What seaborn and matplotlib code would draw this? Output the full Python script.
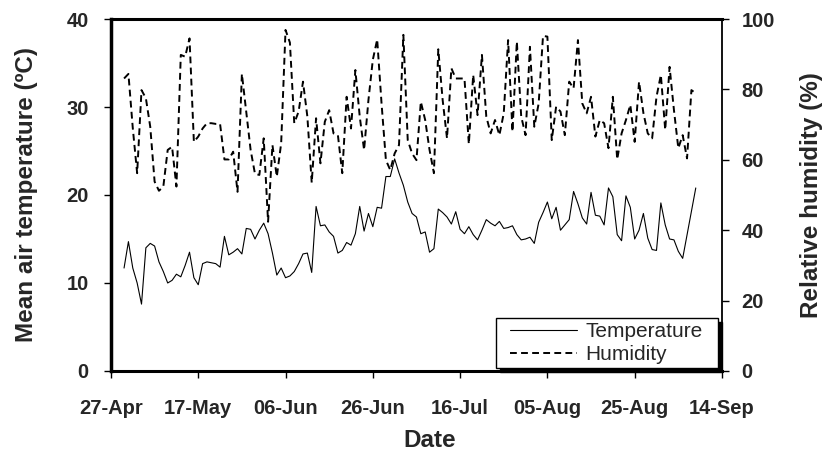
import numpy as np
import pandas as pd
import matplotlib
matplotlib.use("Agg")
import matplotlib.pyplot as plt
import matplotlib.dates as mdates
from matplotlib.lines import Line2D
from matplotlib.legend_handler import HandlerLine2D
import seaborn as sns

# Daily observations, 30 Apr - 8 Sep (temperature missing on 6-7 Sep)
first_day = "2007-04-30"

temperature = [
    11.7, 14.7, 11.7, 10.0, 7.6, 14.0, 14.5, 14.2, 12.4, 11.3,
    10.0, 10.3, 11.0, 10.7, 12.0, 13.5, 10.6, 9.8, 12.2, 12.4,
    12.3, 12.2, 11.8, 15.3, 13.2, 13.5, 13.9, 13.3, 16.2, 16.1,
    15.0, 16.0, 16.8, 15.6, 13.4, 10.9, 11.7, 10.6, 10.8, 11.3,
    12.2, 13.3, 13.4, 11.2, 18.7, 16.5, 16.6, 15.8, 15.3, 13.4,
    13.7, 14.6, 14.3, 15.6, 18.7, 15.9, 17.9, 16.4, 18.6, 18.5,
    22.1, 22.1, 24.1, 22.5, 21.1, 19.2, 17.9, 17.5, 15.6, 15.8,
    13.5, 13.9, 18.4, 18.0, 17.5, 16.7, 18.1, 16.1, 15.6, 16.4,
    15.5, 14.9, 16.0, 17.2, 16.8, 16.5, 17.0, 16.2, 16.3, 16.5,
    15.5, 14.9, 15.0, 15.2, 14.5, 16.9, 18.0, 19.2, 17.3, 18.6,
    16.0, 16.6, 17.2, 20.4, 19.0, 17.4, 16.7, 20.3, 17.7, 17.6,
    16.6, 20.8, 19.8, 15.5, 14.8, 19.9, 18.6, 15.0, 16.0, 17.9,
    15.1, 13.8, 13.7, 19.1, 16.6, 15.0, 14.9, 13.6, 12.8, np.nan,
    np.nan, 20.8,
]

humidity = [
    83.1, 84.4, 69.0, 56.2, 79.8, 77.5, 69.4, 53.8, 51.2, 52.4,
    62.8, 63.7, 52.4, 89.8, 89.3, 94.5, 65.1, 66.6, 68.9, 70.4,
    70.4, 70.2, 70.2, 60.1, 60.1, 62.3, 50.9, 84.4, 73.7, 62.8,
    56.0, 55.7, 66.1, 42.4, 64.2, 55.2, 64.7, 96.9, 93.3, 70.4,
    73.7, 82.2, 72.3, 53.5, 71.8, 59.0, 70.8, 74.1, 67.5, 67.0,
    56.2, 77.9, 68.9, 85.5, 72.3, 62.8, 77.0, 88.4, 94.2, 76.0,
    59.9, 57.1, 61.8, 64.2, 95.5, 65.6, 61.8, 59.9, 76.5, 71.3,
    62.8, 56.2, 91.4, 77.0, 66.1, 86.0, 83.1, 83.1, 83.1, 64.5,
    84.1, 72.7, 89.8, 72.3, 67.5, 71.3, 67.0, 73.2, 94.0, 68.0,
    93.6, 72.3, 67.0, 92.1, 69.4, 76.0, 95.2, 95.0, 65.6, 75.1,
    73.7, 67.0, 82.2, 80.3, 94.0, 76.0, 73.2, 77.9, 66.6, 71.3,
    70.4, 63.3, 77.9, 60.1, 67.5, 71.3, 75.6, 65.1, 82.2, 73.3,
    67.5, 66.1, 77.9, 84.1, 68.5, 86.4, 74.1, 63.3, 67.0, 60.4,
    79.8, 78.9,
]

tick_dates = ["2007-04-27", "2007-05-17", "2007-06-06", "2007-06-26",
              "2007-07-16", "2007-08-05", "2007-08-25", "2007-09-14"]
temp_ticks = [0, 10, 20, 30, 40]
hum_ticks = [0, 20, 40, 60, 80, 100]

df = pd.DataFrame({
    "date": pd.date_range(first_day, periods=len(humidity), freq="D"),
    "temperature": temperature,
    "humidity": humidity,
})

sns.set_theme(style="ticks")
plt.rcParams["font.family"] = ["Liberation Sans", "DejaVu Sans"]

fig = plt.figure(figsize=(8.25, 4.67), dpi=100)
ax = fig.add_axes([0.1345, 0.2056, 0.7406, 0.7537])
ax2 = ax.twinx()

sns.lineplot(data=df, x="date", y="temperature", ax=ax, color="black",
             linewidth=0.8, legend=False)
sns.lineplot(data=df, x="date", y="humidity", ax=ax2, color="black",
             linewidth=1.4, linestyle=(0, (3.5, 2.2)), legend=False)

ticks = pd.to_datetime(tick_dates)
ax.set_xlim(ticks[0], ticks[-1])
ax.set_xticks(ticks)
ax.xaxis.set_major_formatter(mdates.DateFormatter("%d-%b"))
ax.set_ylim(0, 40)
ax.set_yticks(temp_ticks)
ax2.set_ylim(0, 100)
ax2.set_yticks(hum_ticks)

bold = dict(fontweight="bold")
ax.set_xlabel("Date", fontsize=17.5, **bold)
ax.set_ylabel("Mean air temperature (ºC)", fontsize=17.5, **bold)
ax2.set_ylabel("Relative humidity (%)", fontsize=17.5, **bold)
ax.xaxis.set_label_coords(0.522, -0.165)
ax.yaxis.set_label_coords(-0.12, 0.5)
ax2.yaxis.set_label_coords(1.128, 0.5)

for a in (ax, ax2):
    a.tick_params(axis="both", which="major", labelsize=14.5, length=5,
                  width=1, color="black", direction="out")
    for lab in a.get_xticklabels() + a.get_yticklabels():
        lab.set_fontweight("bold")
ax.tick_params(axis="y", pad=11)
ax.tick_params(axis="x", pad=15)
ax2.tick_params(axis="y", pad=9)

for name, sp in ax.spines.items():
    sp.set_color("black")
ax.spines["left"].set_linewidth(2.5)
ax.spines["bottom"].set_linewidth(2.2)
ax.spines["top"].set_linewidth(2.2)
ax.spines["right"].set_visible(False)
for name in ("left", "top", "bottom"):
    ax2.spines[name].set_visible(False)
ax2.spines["right"].set_color("black")
ax2.spines["right"].set_linewidth(1.3)
ax.grid(False)
ax2.grid(False)

h_temp = ax.get_lines()[0]
h_hum = ax2.get_lines()[0]
leg = ax2.legend(
    [h_temp, h_hum], ["Temperature", "Humidity"],
    loc="lower left", bbox_to_anchor=(0.630, 0.0077, 0.3633, 0.1),
    mode="expand", borderaxespad=0, fontsize=15, handlelength=3.7,
    handletextpad=0.38, borderpad=0.2, labelspacing=0.2, fancybox=False,
    framealpha=1, edgecolor="black",
    shadow={"ox": 3, "oy": -3, "color": "black", "alpha": 1},
    handler_map={Line2D: HandlerLine2D(xpad=0.5)},
)
leg.get_frame().set_linewidth(1.0)

fig.savefig("out.png", dpi=100)
